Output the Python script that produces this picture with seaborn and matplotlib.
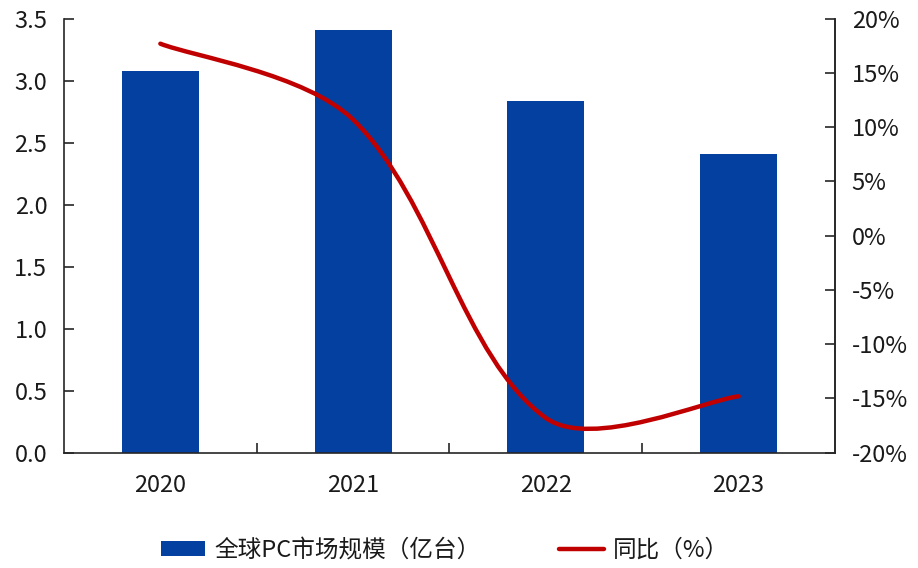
import matplotlib
matplotlib.use("Agg")
import matplotlib.pyplot as plt
from matplotlib.path import Path
from matplotlib.patches import PathPatch, Patch
from matplotlib.lines import Line2D
from matplotlib.ticker import FixedLocator
import numpy as np
import pandas as pd
import seaborn as sns

# Data
years = ["2020", "2021", "2022", "2023"]
shipments = [3.08, 3.41, 2.84, 2.41]      # 全球PC市场规模（亿台）
yoy_pct = [17.7, 10.7, -16.8, -14.8]      # 同比（%）

bar_label = "全球PC市场规模（亿台）"
line_label = "同比（%）"
left_ticks = [0.0, 0.5, 1.0, 1.5, 2.0, 2.5, 3.0, 3.5]
right_ticks = [-20, -15, -10, -5, 0, 5, 10, 15, 20]

BLUE = "#0340A0"
RED = "#C00000"
AXIS = "#262626"
TEXT = "#1a1a1a"
FS = 17

sns.set_theme(style="white")
plt.rcParams["font.family"] = ["Noto Sans CJK SC", "DejaVu Sans"]
plt.rcParams["axes.unicode_minus"] = False

fig = plt.figure(figsize=(9.18, 5.68), dpi=100)
ax = fig.add_axes([0.0697, 0.203, 0.8399, 0.764])

df = pd.DataFrame({"year": years, "value": shipments})
sns.barplot(data=df, x="year", y="value", color=BLUE, saturation=1,
            width=0.4, ax=ax, edgecolor="none")

ax.set_xlim(-0.5, len(years) - 0.5)
ax.set_ylim(0, 3.5)
ax.set_xlabel("")
ax.set_ylabel("")
ax.set_yticks(left_ticks)
ax.set_yticklabels([f"{t:.1f}" for t in left_ticks])

# category separators as inward minor ticks on the x axis
ax.xaxis.set_minor_locator(FixedLocator([i + 0.5 for i in range(len(years) - 1)]))
ax.tick_params(axis="x", which="major", length=0, pad=15, labelsize=FS, colors=TEXT)
ax.tick_params(axis="x", which="minor", direction="in", length=7, width=1.2,
               color=AXIS, bottom=True)
ax.tick_params(axis="y", direction="in", length=7, width=1.2, color=AXIS,
               pad=12, labelsize=FS, labelcolor=TEXT, left=True)

ax.spines["top"].set_visible(False)
for side in ["left", "bottom", "right"]:
    ax.spines[side].set_color(AXIS)
    ax.spines[side].set_linewidth(1.2)

# secondary axis: year-on-year growth as a smoothed curve
ax2 = ax.twinx()
ax2.set_ylim(-20, 20)
ax2.set_xlim(-0.5, len(years) - 0.5)
ax2.set_yticks(right_ticks)
ax2.set_yticklabels([f"{t}%" for t in right_ticks])
ax2.tick_params(axis="y", direction="in", length=7, width=1.2, color=AXIS,
                pad=12, labelsize=FS, labelcolor=TEXT, right=True)
for side in ["top", "left", "bottom"]:
    ax2.spines[side].set_visible(False)
ax2.spines["right"].set_color(AXIS)
ax2.spines["right"].set_linewidth(1.2)

# smoothing is computed in display space so the curve shape follows the drawn scale
data_pts = np.column_stack([np.arange(len(yoy_pct), dtype=float),
                            np.array(yoy_pct, dtype=float)])
px = ax2.transData.transform(data_pts)
n = len(px)
seg_len = [np.hypot(*(px[i + 1] - px[i])) for i in range(n - 1)]
verts = [px[0]]
codes = [Path.MOVETO]
k = 1.0 / 3.0
for i in range(n - 1):
    p_prev = px[max(i - 1, 0)]
    p0, p1 = px[i], px[i + 1]
    p_next = px[min(i + 2, n - 1)]
    l_prev = seg_len[i - 1] if i > 0 else seg_len[i]
    l_next = seg_len[i + 1] if i + 1 < n - 1 else seg_len[i]
    l_cur = seg_len[i]
    c1 = p0 + (p1 - p_prev) * k * l_cur / (l_prev + l_cur)
    c2 = p1 - (p_next - p0) * k * l_cur / (l_cur + l_next)
    verts += [c1, c2, p1]
    codes += [Path.CURVE4] * 3
verts = ax2.transData.inverted().transform(np.array(verts))
curve = PathPatch(Path(verts, codes), facecolor="none", edgecolor=RED,
                  linewidth=3.2, capstyle="round", joinstyle="round", zorder=3)
ax2.add_patch(curve)

handles = [Patch(facecolor=BLUE, edgecolor="none"),
           Line2D([0], [0], color=RED, linewidth=3.2)]
fig.legend(handles, [bar_label, line_label], loc="center",
           bbox_to_anchor=(445 / 918, 1 - 550 / 568), ncol=2, frameon=False,
           fontsize=FS, handlelength=1.9, handleheight=0.6, handletextpad=0.4,
           columnspacing=3.3, labelcolor=TEXT)

fig.savefig("out.png", dpi=100)
